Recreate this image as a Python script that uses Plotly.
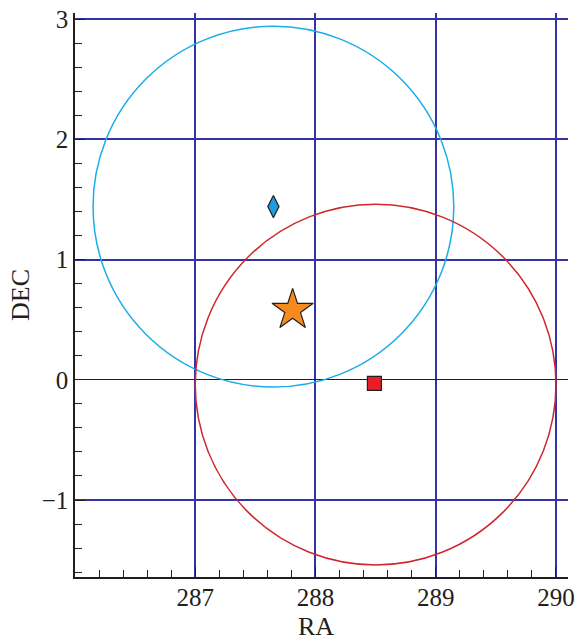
import plotly.graph_objects as go

# Data
circle_names = ["blue", "red"]
circle_cx = [287.65, 288.50]
circle_cy = [1.44, -0.04]
circle_r = [1.50, 1.50]
circle_colors = ["#1AADE8", "#D0262C"]

diamond_ra = [287.65]
diamond_dec = [1.44]
square_ra = [288.49]
square_dec = [-0.03]
star_ra = [287.81]
star_dec = [0.58]

x_ticks = [287, 288, 289, 290]
y_ticks = [-1, 0, 1, 2, 3]

FONT = "Liberation Serif"
GRID = "#3434A0"
TXT = "#231F20"

fig = go.Figure()

for cx, cy, r, col in zip(circle_cx, circle_cy, circle_r, circle_colors):
    fig.add_shape(type="circle", xref="x", yref="y",
                  x0=cx - r, x1=cx + r, y0=cy - r, y1=cy + r,
                  line=dict(color=col, width=1.5), layer="above")

fig.add_trace(go.Scatter(x=diamond_ra, y=diamond_dec, mode="markers",
                         marker=dict(symbol="diamond-tall", size=16, color="#1E9CE0",
                                     line=dict(color="#231F20", width=1.2)),
                         showlegend=False))
fig.add_trace(go.Scatter(x=square_ra, y=square_dec, mode="markers",
                         marker=dict(symbol="square", size=14, color="#EC1C24",
                                     line=dict(color="#231F20", width=1.2)),
                         showlegend=False))
fig.add_trace(go.Scatter(x=star_ra, y=star_dec, mode="markers",
                         marker=dict(symbol="star", size=31, color="#F58A1F",
                                     line=dict(color="#231F20", width=1.2)),
                         showlegend=False))

fig.update_layout(
    width=576, height=640,
    margin=dict(l=75, r=8, t=13, b=63),
    paper_bgcolor="white", plot_bgcolor="white",
    font=dict(family=FONT, size=25, color=TXT),
    showlegend=False,
)

fig.add_annotation(text="RA", xref="paper", yref="paper", x=0.488, y=0,
                   xanchor="center", yanchor="middle", yshift=-49, showarrow=False,
                   font=dict(family=FONT, size=26, color=TXT))

fig.update_xaxes(
    range=[286.0, 290.1], tickvals=x_ticks, ticktext=[str(v) for v in x_ticks],
    automargin=False, ticklabeloverflow="allow",
    showgrid=True, gridcolor=GRID, gridwidth=1.5,
    zeroline=False,
    showline=True, linecolor=TXT, linewidth=1.5, mirror=False,
    ticks="inside", ticklen=10, tickcolor=TXT, tickwidth=1.3,
    minor=dict(dtick=0.2, tick0=286.0, ticks="inside", ticklen=7, tickcolor=TXT, tickwidth=1.3, showgrid=False),
    tickfont=dict(family=FONT, size=25, color=TXT),
    ticklabelstandoff=-3,
)
fig.update_yaxes(
    range=[-1.64, 3.05], tickvals=y_ticks, ticktext=["\u22121", "0", "1", "2", "3"],
    automargin=False, ticklabeloverflow="allow",
    showgrid=True, gridcolor=GRID, gridwidth=1.5,
    zeroline=True, zerolinecolor="#231F20", zerolinewidth=1.3,
    showline=True, linecolor=TXT, linewidth=1.5, mirror=False,
    ticks="inside", ticklen=10, tickcolor=TXT, tickwidth=1.3,
    minor=dict(dtick=0.2, tick0=0, ticks="inside", ticklen=7, tickcolor=TXT, tickwidth=1.3, showgrid=False),
    tickfont=dict(family=FONT, size=25, color=TXT),
    title=dict(text="DEC", font=dict(family=FONT, size=26, color=TXT), standoff=5),
)

fig.write_html("out.html", config={"displayModeBar": False},
               post_script="document.body.style.margin='0';document.body.style.overflow='hidden';")
